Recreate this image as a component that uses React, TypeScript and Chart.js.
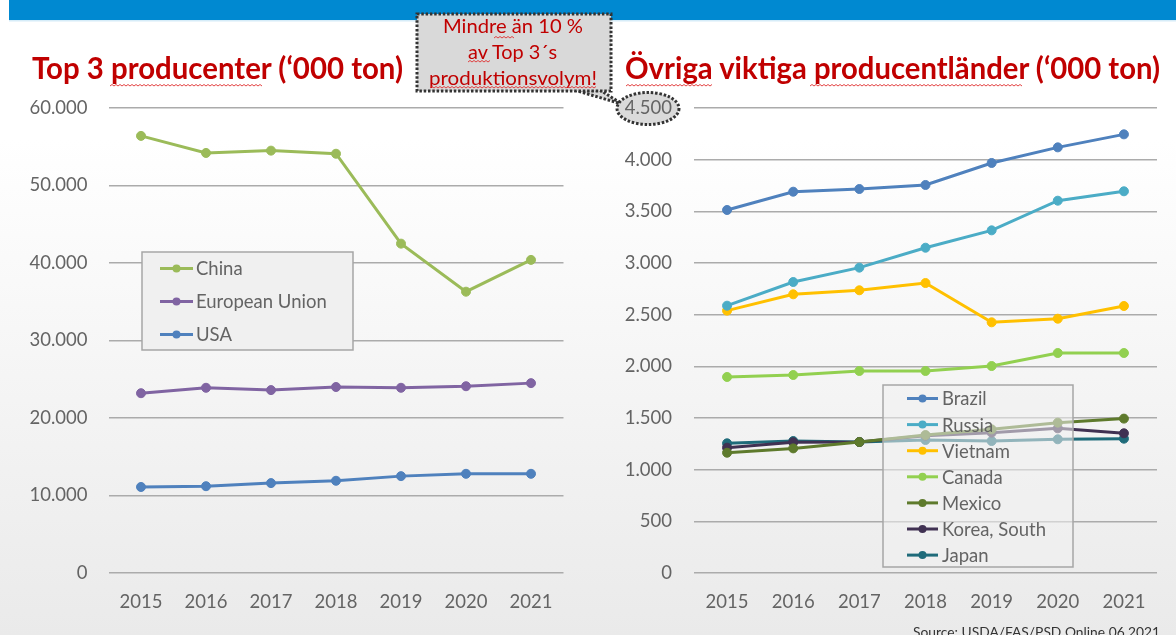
import React, { useEffect, useRef } from "react";
import { Chart, registerables } from "chart.js";

Chart.register(...registerables);

const years = ["2015", "2016", "2017", "2018", "2019", "2020", "2021"];

const china = [56400, 54200, 54500, 54100, 42500, 36300, 40400];
const europeanUnion = [23200, 23900, 23600, 24000, 23900, 24100, 24500];
const usa = [11100, 11200, 11600, 11900, 12500, 12800, 12800];

const brazil = [3513, 3690, 3716, 3755, 3968, 4119, 4245];
const russia = [2587, 2816, 2955, 3148, 3316, 3603, 3694];
const vietnam = [2539, 2697, 2736, 2806, 2426, 2461, 2584];
const canada = [1897, 1916, 1955, 1955, 2003, 2129, 2129];
const mexico = [1164, 1206, 1268, 1335, 1390, 1455, 1494];
const korea = [1213, 1265, 1268, 1329, 1358, 1400, 1352];
const japan = [1255, 1277, 1268, 1287, 1277, 1294, 1300];

const leftYTicks = ["0", "10.000", "20.000", "30.000", "40.000", "50.000", "60.000"];
const rightYTicks = ["0", "500", "1.000", "1.500", "2.000", "2.500", "3.000", "3.500", "4.000", "4.500"];

const FONT = "Lato, 'Open Sans', sans-serif";
const TICK_COLOR = "#646464";

const legendBoxPlugin = {
  id: "legendBox",
  afterDatasetsDraw(chart: any, _args: any, o: any) {
    const ctx = chart.ctx;
    ctx.save();
    ctx.fillStyle = o.fill;
    ctx.fillRect(o.x, o.y, o.w, o.h);
    ctx.strokeStyle = "#a6a6a6";
    ctx.lineWidth = 1.5;
    ctx.strokeRect(o.x, o.y, o.w, o.h);
    chart.data.datasets.forEach((ds: any, i: number) => {
      const cy = o.itemY0 + i * o.itemGap;
      ctx.strokeStyle = ds.borderColor;
      ctx.lineWidth = 3;
      ctx.beginPath();
      ctx.moveTo(o.lineX, cy);
      ctx.lineTo(o.lineX + o.lineW, cy);
      ctx.stroke();
      ctx.fillStyle = ds.borderColor;
      ctx.beginPath();
      ctx.arc(o.lineX + o.lineW / 2, cy, 4, 0, Math.PI * 2);
      ctx.fill();
      ctx.fillStyle = TICK_COLOR;
      ctx.font = `18.5px ${FONT}`;
      ctx.textBaseline = "middle";
      ctx.textAlign = "left";
      ctx.fillText(ds.label, o.textX, cy + 1);
    });
    ctx.restore();
  },
};

function makeDataset(label: string, data: number[], color: string) {
  return {
    label,
    data,
    borderColor: color,
    backgroundColor: color,
    pointBackgroundColor: color,
    pointBorderColor: color,
    borderWidth: 3,
    pointRadius: 4.5,
    pointBorderWidth: 1,
    tension: 0,
  };
}

function makeOptions(
  max: number,
  step: number,
  labels: string[],
  yWidth: number,
  yPad: number,
  padRight: number,
  legend: any
) {
  return {
    responsive: false,
    animation: false as const,
    layout: { padding: { top: 108, right: padRight, bottom: 0, left: 0 } },
    plugins: {
      legend: { display: false },
      tooltip: { enabled: false },
      legendBox: legend,
    },
    scales: {
      x: {
        offset: true,
        grid: { display: false, drawTicks: false },
        border: { display: false },
        ticks: { padding: 18, color: TICK_COLOR, font: { family: FONT, size: 18.5 } },
        afterFit: (s: any) => {
          s.height = 62;
        },
      },
      y: {
        min: 0,
        max,
        grid: { color: "#ababab", lineWidth: 1.5, drawTicks: false },
        border: { display: false },
        ticks: {
          stepSize: step,
          padding: yPad,
          color: TICK_COLOR,
          font: { family: FONT, size: 18.5 },
          callback: (_v: any, i: number) => labels[i],
        },
        afterFit: (s: any) => {
          s.width = yWidth;
        },
      },
    },
  };
}

// spell-check style wavy underline
function wavy(x1: number, x2: number, y: number) {
  let d = `M${x1} ${y}`;
  let up = true;
  for (let x = x1 + 2; x <= x2; x += 2) {
    d += ` L${x} ${up ? y - 1.5 : y}`;
    up = !up;
  }
  return d;
}

export default function App() {
  const leftRef = useRef<HTMLCanvasElement>(null);
  const rightRef = useRef<HTMLCanvasElement>(null);

  useEffect(() => {
    const left = new Chart(leftRef.current as HTMLCanvasElement, {
      type: "line",
      data: {
        labels: years,
        datasets: [
          makeDataset("China", china, "#9bbb59"),
          makeDataset("European Union", europeanUnion, "#8064a2"),
          makeDataset("USA", usa, "#4f81bd"),
        ],
      },
      options: makeOptions(60000, 10000, leftYTicks, 108.5, 21, 24.5, {
        x: 142,
        y: 252,
        w: 211,
        h: 98,
        fill: "#f0f0f0",
        itemY0: 268.5,
        itemGap: 33,
        lineX: 160,
        lineW: 33,
        textX: 196,
      }) as any,
      plugins: [legendBoxPlugin as any],
    });

    const right = new Chart(rightRef.current as HTMLCanvasElement, {
      type: "line",
      data: {
        labels: years,
        datasets: [
          makeDataset("Brazil", brazil, "#4f81bd"),
          makeDataset("Russia", russia, "#4bacc6"),
          makeDataset("Vietnam", vietnam, "#ffc000"),
          makeDataset("Canada", canada, "#92d050"),
          makeDataset("Mexico", mexico, "#5e7a2c"),
          makeDataset("Korea, South", korea, "#403152"),
          makeDataset("Japan", japan, "#1f6b7a"),
        ],
      },
      options: makeOptions(4500, 500, rightYTicks, 106, 22, 19, {
        x: 295,
        y: 385,
        w: 190,
        h: 182,
        fill: "rgba(240,240,240,0.55)",
        itemY0: 398.5,
        itemGap: 26.1,
        lineX: 319,
        lineW: 31,
        textX: 354,
      }) as any,
      plugins: [legendBoxPlugin as any],
    });

    return () => {
      left.destroy();
      right.destroy();
    };
  }, []);

  return (
    <div
      style={{
        position: "fixed",
        left: 0,
        top: 0,
        width: 1176,
        height: 635,
        overflow: "hidden",
        background: "linear-gradient(to bottom, #ffffff 0%, #ffffff 22%, #eaeaea 100%)",
        fontFamily: FONT,
      }}
    >
      <svg width={1176} height={635} style={{ position: "absolute", left: 0, top: 0 }}>
        <rect x={9} y={0} width={1167} height={20} fill="#0089d1" />
        <rect x={9} y={20} width={1167} height={1.5} fill="#d6ecf8" />
        {/* callout pointer */}
        <path
          d="M574 90 L600 90 L622 104 Z"
          fill="#d9d9d9"
          stroke="#333"
          strokeWidth={3}
          strokeDasharray="2.5 1.8"
        />
        <rect
          x={417}
          y={14}
          width={194}
          height={77}
          fill="#d9d9d9"
          stroke="#333"
          strokeWidth={3}
          strokeDasharray="2.5 1.8"
        />
        <ellipse
          cx={648}
          cy={108.5}
          rx={31}
          ry={16}
          fill="#dadada"
          stroke="#333"
          strokeWidth={3}
          strokeDasharray="2.5 1.8"
        />
      </svg>
      <canvas
        ref={leftRef}
        width={588}
        height={635}
        style={{ position: "absolute", left: 0, top: 0, width: 588, height: 635 }}
      />
      <canvas
        ref={rightRef}
        width={588}
        height={635}
        style={{ position: "absolute", left: 588, top: 0, width: 588, height: 635 }}
      />
      <svg
        width={1176}
        height={635}
        style={{ position: "absolute", left: 0, top: 0, pointerEvents: "none" }}
      >
        <g fontFamily={FONT} fill="#c00000">
          <text x={32} y={79} fontSize={30} fontWeight={700} textLength={371} lengthAdjust="spacingAndGlyphs">
            Top 3 producenter (‘000 ton)
          </text>
          <text x={625} y={79} fontSize={30} fontWeight={700} textLength={535} lengthAdjust="spacingAndGlyphs">
            Övriga viktiga producentländer (‘000 ton)
          </text>
          <text x={443} y={33} fontSize={19} textLength={140} lengthAdjust="spacingAndGlyphs">
            Mindre än 10 %
          </text>
          <text x={468} y={59} fontSize={19} textLength={89} lengthAdjust="spacingAndGlyphs">
            av Top 3´s
          </text>
          <text x={429} y={85} fontSize={19} textLength={168} lengthAdjust="spacingAndGlyphs">
            produktionsvolym!
          </text>
        </g>
        <g fill="none" stroke="#e03030" strokeWidth={0.9}>
          <path d={wavy(110, 262, 86)} />
          <path d={wavy(626, 712, 86)} />
          <path d={wavy(810, 1022, 86)} />
          <path d={wavy(494, 515, 38)} />
          <path d={wavy(468, 491, 62)} />
          <path d={wavy(430, 596, 88)} />
        </g>
        <text
          x={913}
          y={637}
          fontFamily={FONT}
          fontSize={14}
          fill="#333"
          textLength={247}
          lengthAdjust="spacingAndGlyphs"
        >
          Source: USDA/FAS/PSD Online 06.2021
        </text>
      </svg>
    </div>
  );
}
